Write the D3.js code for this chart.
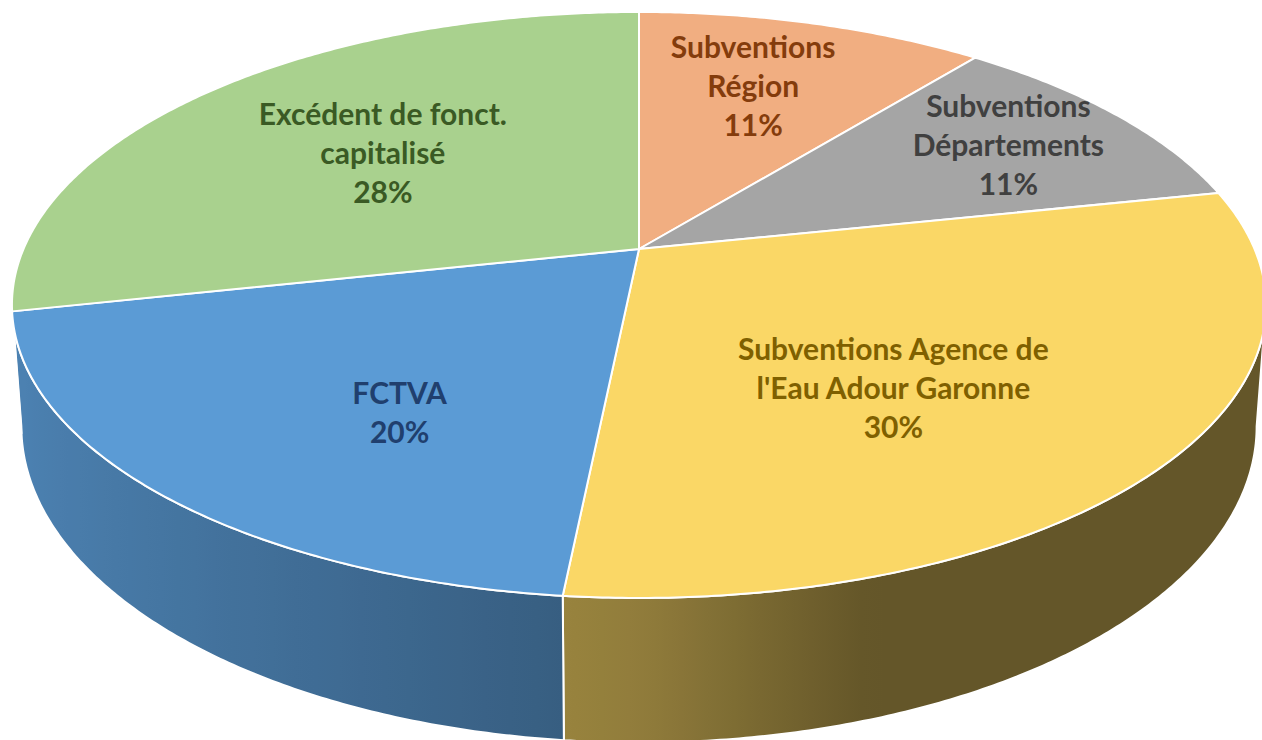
<!DOCTYPE html>
<html>
<head>
<meta charset="utf-8">
<script src="https://cdn.jsdelivr.net/npm/d3@7"></script>
<style>
  body { margin: 0; background: #fff; }
  svg { display: block; }
</style>
</head>
<body>
<svg id="chart" width="1262" height="740"></svg>
<script>
// data (labels show the rounded shares)
const categories = ["Subventions Région", "Subventions Départements",
  "Subventions Agence de l'Eau Adour Garonne", "FCTVA", "Excédent de fonct. capitalisé"];
const values = [10.8, 10.9, 29.9, 20.0, 28.4];
const labelLines = [["Subventions", "Région"], ["Subventions", "Départements"],
  ["Subventions Agence de", "l'Eau Adour Garonne"], ["FCTVA"], ["Excédent de fonct.", "capitalisé"]];
const colors = ["#F1AE81", "#A5A5A5", "#FAD766", "#5B9BD5", "#A9D18E"];
const textColors = ["#843C0C", "#404040", "#7F6000", "#203F6E", "#3A5A24"];

const svg = d3.select("#chart"),
    width = 1262, height = 740;

// projection of the tilted disc (simple perspective)
const cx = 639, cy = 249, rx = 615.5, ry = 282.3, persp = 0.191, depth = 117, shrink = 0.015;

function proj(a, r, z) {
    const x = r * Math.sin(a), y = r * Math.cos(a), w = 1 + persp * y;
    return [cx + rx * x / w * (1 - shrink * z), cy - ry * y / w + depth * z / w];
}

// side shading: light comes from the left
function shade(color, a) {
    const s = Math.sin(a);
    const f = Math.max(0.40, s < 0 ? 0.58 - 0.27 * s : 0.58 - 0.6 * s);
    const c = d3.rgb(color);
    return d3.rgb(c.r * f, c.g * f, c.b * f).formatHex();
}

const pie = d3.pie().sort(null).value(d => d)(values);
const total = d3.sum(values);
const defs = svg.append("defs");

// visible part of the rim
const sil1 = Math.acos(-persp), sil2 = 2 * Math.PI - sil1;
const step = Math.PI / 360;

const sides = svg.append("g");
pie.forEach(function(d, i) {
    const a0 = Math.max(d.startAngle, sil1), a1 = Math.min(d.endAngle, sil2);
    if (a1 <= a0) return;
    const n = Math.max(2, Math.ceil((a1 - a0) / step));
    const angles = d3.range(n + 1).map(k => a0 + (a1 - a0) * k / n);
    const top = angles.map(a => proj(a, 1, 0));
    const bot = angles.map(a => proj(a, 1, 1)).reverse();
    const xs = top.map(p => p[0]);
    const xMin = d3.min(xs), xMax = d3.max(xs);
    const grad = defs.append("linearGradient")
        .attr("id", "side" + i)
        .attr("gradientUnits", "userSpaceOnUse")
        .attr("x1", xMin).attr("x2", xMax).attr("y1", 0).attr("y2", 0);
    const stops = angles.filter((a, k) => k % 4 === 0 || k === n).map(a => ({
        offset: xMax > xMin ? (proj(a, 1, 0)[0] - xMin) / (xMax - xMin) : 0,
        color: shade(colors[i], a)
    })).sort((p, q) => p.offset - q.offset);
    grad.selectAll("stop").data(stops).enter().append("stop")
        .attr("offset", s => s.offset)
        .attr("stop-color", s => s.color);
    sides.append("path")
        .attr("d", d3.line()(top.concat(bot)) + "Z")
        .attr("fill", "url(#side" + i + ")")
        .attr("stroke", "#fff")
        .attr("stroke-width", 2)
        .attr("stroke-linejoin", "round");
});

// top faces
const tops = svg.append("g");
pie.forEach(function(d, i) {
    const n = Math.max(2, Math.ceil((d.endAngle - d.startAngle) / step));
    const pts = [proj(0, 0, 0)].concat(d3.range(n + 1).map(k =>
        proj(d.startAngle + (d.endAngle - d.startAngle) * k / n, 1, 0)));
    tops.append("path")
        .attr("d", d3.line()(pts) + "Z")
        .attr("fill", colors[i])
        .attr("stroke", "#fff")
        .attr("stroke-width", 2)
        .attr("stroke-linejoin", "round");
});

// data labels, placed like Excel does (radius / angle tweak per slice)
const labelR = [0.68, 0.757, 0.587, 0.627, 0.575];
const labelDA = [-1.6, 0, 8, -7.8, 0.4];
const fmt = d3.format(".0%");
const lineH = 39, fontSize = 30;

const labels = svg.append("g")
    .attr("font-family", "Lato, 'Open Sans', sans-serif")
    .attr("font-weight", "bold")
    .attr("font-size", fontSize)
    .attr("text-anchor", "middle");
pie.forEach(function(d, i) {
    const mid = (d.startAngle + d.endAngle) / 2 + labelDA[i] * Math.PI / 180;
    const p = proj(mid, labelR[i], 0);
    const lines = labelLines[i].concat([fmt(values[i] / total)]);
    const y0 = p[1] - (lines.length - 1) / 2 * lineH + 11;
    const t = labels.append("text").attr("fill", textColors[i]);
    lines.forEach(function(s, k) {
        t.append("tspan").attr("x", p[0]).attr("y", y0 + k * lineH).text(s);
    });
});
</script>
</body>
</html>
